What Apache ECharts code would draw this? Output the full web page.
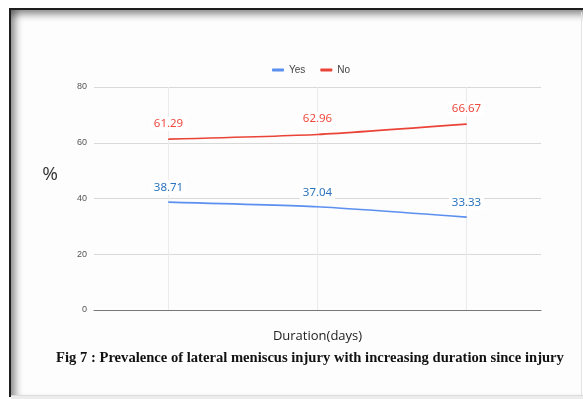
<!DOCTYPE html>
<html>
<head>
<meta charset="utf-8">
<script src="https://cdn.jsdelivr.net/npm/echarts@6/dist/echarts.min.js"></script>
<style>
  html, body { margin: 0; padding: 0; background: #fff; overflow: hidden; width: 583px; height: 399px; }
  #frame {
    position: absolute; left: 9px; top: 8px; width: 580px; height: 387px;
    border-left: 2px solid #1e1e1e; border-top: 2px solid #1e1e1e;
    box-shadow: inset 8px 0 7px -3px rgba(0,0,0,0.38), inset 0 8px 7px -3px rgba(0,0,0,0.38);
    background: #fdfdfd;
  }
  #edge-r { position: absolute; left: 581px; top: 12px; width: 1px; height: 384px; background: #e4e4e4; }
  #edge-b { position: absolute; left: 11px; top: 395px; width: 572px; height: 4px; background: #ececec; border-top: 1px solid #dcdcdc; }
  #chart { position: absolute; left: 0; top: 0; width: 583px; height: 399px; }
</style>
</head>
<body>
<div id="frame"></div>
<div id="edge-r"></div>
<div id="edge-b"></div>
<div id="chart"></div>
<script>
// Duration groups since injury (axis labels are not shown on the figure)
const categories = ['Group 1', 'Group 2', 'Group 3'];
// Prevalence of lateral meniscus injury (%)
const yesValues = [38.71, 37.04, 33.33];
const noValues = [61.29, 62.96, 66.67];
const yTicks = [0, 20, 40, 60, 80];

const yesColor = '#5b8ff0';
const noColor = '#ea4438';
const labelFont = 'Noto Sans';

const chart = echarts.init(document.getElementById('chart'), null, { renderer: 'canvas' });

chart.setOption({
  backgroundColor: 'transparent',
  animation: false,
  legend: {
    top: 60,
    left: 267,
    itemWidth: 12,
    itemHeight: 3,
    itemGap: 15,
    icon: 'roundRect',
    textStyle: { fontSize: 10, color: '#444', fontFamily: 'Liberation Sans' },
    data: [
      { name: 'Yes', itemStyle: { color: yesColor } },
      { name: 'No', itemStyle: { color: noColor } }
    ]
  },
  grid: { left: 94, right: 42, top: 87, bottom: 89 },
  xAxis: {
    type: 'category',
    data: categories,
    boundaryGap: true,
    axisLine: { lineStyle: { color: '#777', width: 1 } },
    axisTick: { show: false },
    axisLabel: { show: false },
    splitLine: { show: false },
    name: 'Duration(days)',
    nameLocation: 'middle',
    nameGap: 20,
    nameTextStyle: { fontSize: 13, color: '#222', fontFamily: 'Open Sans' }
  },
  yAxis: {
    type: 'value',
    min: yTicks[0],
    max: yTicks[yTicks.length - 1],
    interval: 20,
    axisLine: { show: false },
    axisTick: { show: false },
    axisLabel: { fontSize: 9, color: '#555', margin: 7, fontFamily: 'Liberation Sans' },
    splitLine: { lineStyle: { color: '#d9d9d9', width: 1 } }
  },
  graphic: [
    {
      type: 'text',
      x: 50,
      y: 175,
      style: {
        text: '%',
        font: '19px "Open Sans"',
        fill: '#333',
        align: 'center',
        verticalAlign: 'middle'
      }
    },
    {
      type: 'text',
      x: 310,
      y: 358,
      style: {
        text: 'Fig 7 : Prevalence of lateral meniscus injury with increasing duration since injury',
        font: 'bold 14.6px "Liberation Serif"',
        fill: '#111',
        align: 'center',
        verticalAlign: 'middle'
      }
    }
  ],
  series: [
    {
      name: 'Yes',
      type: 'line',
      data: yesValues,
      smooth: 0.2,
      symbol: 'circle',
      symbolSize: 1,
      showSymbol: true,
      itemStyle: { color: yesColor },
      lineStyle: { width: 1.6, color: yesColor },
      label: {
        show: true,
        position: 'top',
        distance: 7,
        fontSize: 11.5,
        fontFamily: labelFont,
        color: '#2b74bd',
        backgroundColor: '#fff',
        padding: [1, 3]
      },
      markLine: {
        silent: true,
        symbol: 'none',
        label: { show: false },
        lineStyle: { color: '#ebebeb', width: 1, type: 'solid' },
        data: categories.map(c => ({ xAxis: c })),
        z: 0
      },
      z: 3
    },
    {
      name: 'No',
      type: 'line',
      data: noValues,
      smooth: 0.2,
      symbol: 'circle',
      symbolSize: 1,
      showSymbol: true,
      itemStyle: { color: noColor },
      lineStyle: { width: 1.6, color: noColor },
      label: {
        show: true,
        position: 'top',
        distance: 8,
        fontSize: 11.5,
        fontFamily: labelFont,
        color: '#ee4a3f',
        backgroundColor: '#fff',
        padding: [1, 3]
      },
      z: 3
    }
  ]
});
</script>
</body>
</html>
